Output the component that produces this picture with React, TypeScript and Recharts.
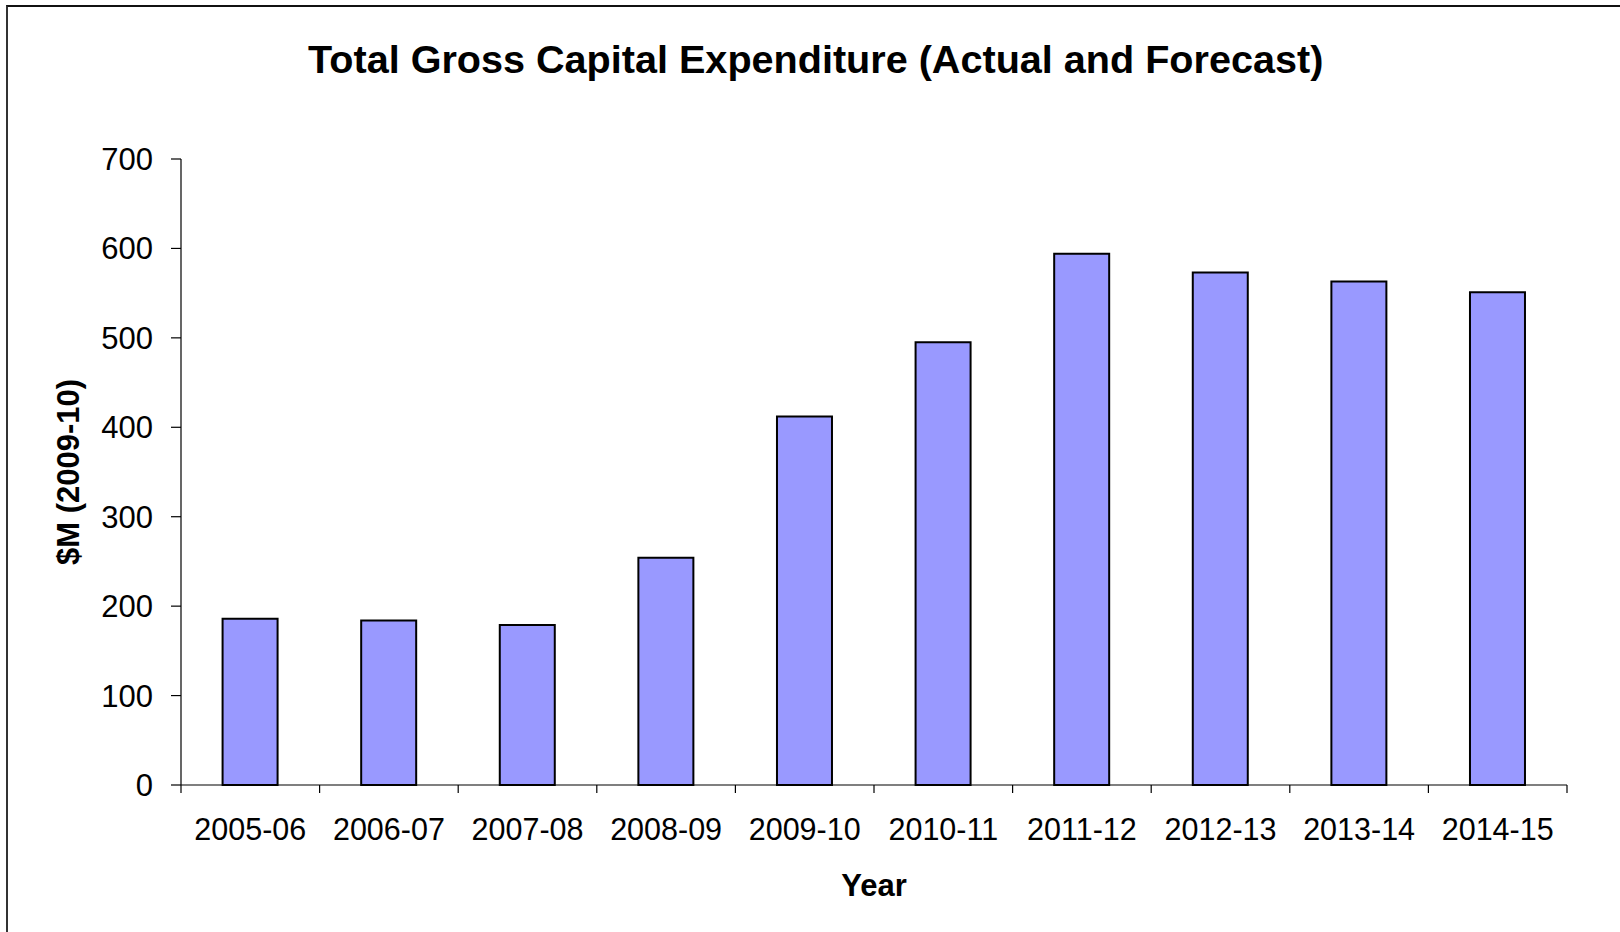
import React from 'react';
import { BarChart, Bar, XAxis, YAxis, Label } from 'recharts';

const years = ['2005-06', '2006-07', '2007-08', '2008-09', '2009-10', '2010-11', '2011-12', '2012-13', '2013-14', '2014-15'];
const capex = [186, 184, 179, 254, 412, 495, 594, 573, 563, 551];
const yTicks = [0, 100, 200, 300, 400, 500, 600, 700];

const data = years.map((year, i) => ({ year, capex: capex[i] }));

const FONT = '"Liberation Sans", Arial, sans-serif';
const X_TICK_LEN = 8;
const X_TICK_MARGIN = 33;

const YLabel = (props: any) => {
  const vb = props.viewBox || { x: 0, y: 159, width: 181, height: 626 };
  const cy = vb.y + vb.height / 2;
  const cx = 68;
  return (
    <text
      x={cx}
      y={cy}
      transform={`rotate(-90 ${cx} ${cy})`}
      textAnchor="middle"
      dominantBaseline="central"
      style={{ fontFamily: FONT, fontWeight: 'bold', fontSize: 31, fill: '#000' }}
    >
      $M (2009-10)
    </text>
  );
};

const CatTick = (props: any) => {
  const { x, y, payload, index, visibleTicksCount } = props;
  const off = payload && payload.offset ? payload.offset : 0;
  const axisY = y - X_TICK_MARGIN;
  return (
    <g>
      <line x1={x - off} x2={x - off} y1={axisY} y2={axisY + X_TICK_LEN} stroke="#000" strokeWidth={1.2} />
      {index === visibleTicksCount - 1 && (
        <line x1={x + off} x2={x + off} y1={axisY} y2={axisY + X_TICK_LEN} stroke="#000" strokeWidth={1.2} />
      )}
      <text x={x} y={y} dy="0.71em" textAnchor="middle" style={{ fontFamily: FONT, fontSize: 30.5, fill: '#000' }}>
        {payload.value}
      </text>
    </g>
  );
};

export default function App() {
  return (
    <div style={{ position: 'absolute', left: 0, top: 0, width: 1620, height: 932, background: '#fff', fontFamily: FONT, overflow: 'hidden' }}>
      <div style={{ position: 'absolute', left: 6, top: 5, right: -4, bottom: -4, borderTop: '2px solid #111', borderLeft: '2px solid #333' }} />
      <div style={{ position: 'absolute', left: 0, width: 1631.4, top: 39.5, textAlign: 'center', fontSize: 39.6, fontWeight: 'bold', lineHeight: 1, color: '#000' }}>
        Total Gross Capital Expenditure (Actual and Forecast)
      </div>
      <BarChart
        width={1620}
        height={932}
        data={data}
        margin={{ top: 159, right: 53, bottom: 27, left: 0 }}
        style={{ position: 'absolute', left: 0, top: 0, fontFamily: FONT }}
        barCategoryGap="30%"
      >
        <XAxis
          dataKey="year"
          height={120}
          axisLine={{ stroke: '#000', strokeWidth: 1.2 }}
          tickLine={false}
          tickSize={0}
          tickMargin={X_TICK_MARGIN}
          interval={0}
          tick={<CatTick />}
        >
          <Label value="Year" position="insideBottom" offset={9} style={{ fontWeight: 'bold', fontSize: 31, fill: '#000', fontFamily: FONT }} />
        </XAxis>
        <YAxis
          width={181}
          domain={[0, 700]}
          ticks={yTicks}
          interval={0}
          tickSize={10}
          tickMargin={18}
          axisLine={{ stroke: '#000', strokeWidth: 1.2 }}
          tickLine={{ stroke: '#000', strokeWidth: 1.2 }}
          tick={{ fill: '#000', fontSize: 31, fontFamily: FONT }}
        >
          <Label content={YLabel} />
        </YAxis>
        <Bar dataKey="capex" fill="#9999FF" stroke="#000" strokeWidth={2} isAnimationActive={false} />
      </BarChart>
    </div>
  );
}
